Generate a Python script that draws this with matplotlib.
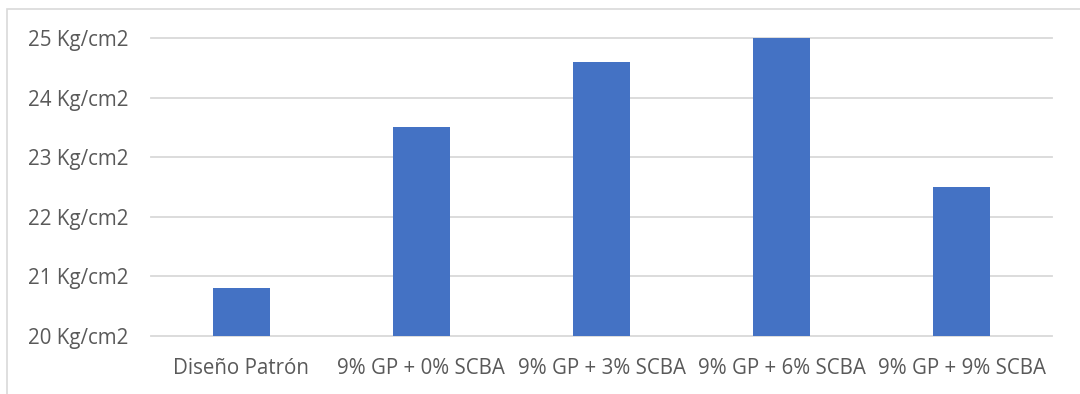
import matplotlib.pyplot as plt
from matplotlib.patches import Rectangle

# resistencia por mezcla
categorias = ['Diseño Patrón', '9% GP + 0% SCBA', '9% GP + 3% SCBA',
              '9% GP + 6% SCBA', '9% GP + 9% SCBA']
resistencia = [20.8, 23.5, 24.6, 25.0, 22.5]
ticks_y = [20, 21, 22, 23, 24, 25]

AZUL = '#4472C4'
GRIS = '#D9D9D9'
TEXTO = '#595959'

plt.rcParams['font.family'] = ['Open Sans', 'DejaVu Sans']

fig = plt.figure(figsize=(10.8, 3.94), dpi=100)
ax = fig.add_axes([151 / 1080, 1 - 336 / 394, (1052 - 151) / 1080, (336 - 38) / 394])

x = range(len(categorias))
ax.bar(x, [v - ticks_y[0] for v in resistencia], bottom=ticks_y[0],
       width=0.316, color=AZUL, zorder=3)

ax.set_xlim(-0.5, len(categorias) - 0.5)
ax.set_ylim(ticks_y[0], ticks_y[-1])
ax.set_yticks(ticks_y)
ax.set_yticklabels(['{} Kg/cm2'.format(t) for t in ticks_y])
ax.set_xticks(list(x))
ax.set_xticklabels(categorias)

for t in ticks_y:
    ax.axhline(t, color=GRIS, lw=1.3, zorder=1, clip_on=False)

for s in ax.spines.values():
    s.set_visible(False)
ax.tick_params(axis='both', length=0, colors=TEXTO, labelsize=14.8)
ax.tick_params(axis='y', pad=16)
ax.tick_params(axis='x', pad=16)

# borde del area del grafico
fig.patches.append(Rectangle((7 / 1080, -0.1), 1.2, 1 - 9 / 394 + 0.1,
                             transform=fig.transFigure, fill=False,
                             edgecolor=GRIS, lw=1.2))

fig.savefig('out.png', dpi=100)
